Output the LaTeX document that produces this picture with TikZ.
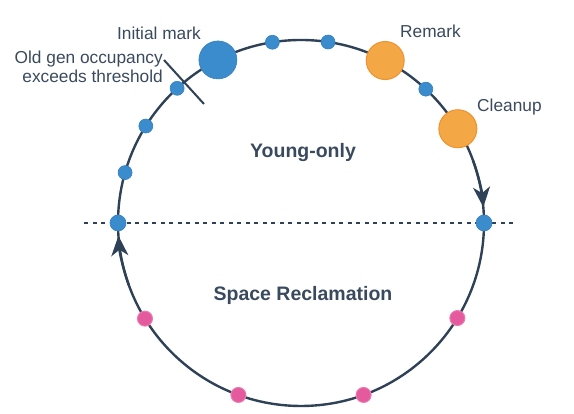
\documentclass[tikz,border=0pt]{standalone}
\usepackage{fontspec}
\setmainfont{Liberation Sans}
\usetikzlibrary{arrows.meta,calc}
\definecolor{ringc}{HTML}{2F4156}
\definecolor{txtc}{HTML}{3A4A5E}
\definecolor{blu}{HTML}{3B8CCD}
\definecolor{blud}{HTML}{3580C0}
\definecolor{orf}{HTML}{F4A745}
\definecolor{ord}{HTML}{EE9230}
\definecolor{pnk}{HTML}{E45A9C}
\definecolor{pnkd}{HTML}{EC7AB0}
\tikzset{
  ring/.style={draw=ringc,line width=2.4pt},
  sdot/.style={circle,fill=blu,draw=blud,line width=0.6pt,minimum size=14pt,inner sep=0pt},
  edot/.style={circle,fill=blu,draw=blud,line width=0.6pt,minimum size=16pt,inner sep=0pt},
  bdot/.style={circle,fill=blu,draw=blud,line width=0.6pt,minimum size=38pt,inner sep=0pt},
  odot/.style={circle,fill=orf,draw=ord,line width=1pt,minimum size=38pt,inner sep=0pt},
  pdot/.style={circle,fill=pnk,draw=pnkd,line width=1pt,minimum size=15pt,inner sep=0pt},
  lbl/.style={text=txtc,font=\fontsize{17.3}{19}\selectfont,inner sep=0pt},
  ttl/.style={text=txtc,font=\bfseries\fontsize{19.5}{22}\selectfont,inner sep=0pt},
  arr/.style={draw=ringc,line width=2.4pt,-{Stealth[length=20pt,width=17pt,inset=6pt]}}
}
\begin{document}
\begin{tikzpicture}[x=1pt,y=1pt]
\useasboundingbox (0,0) rectangle (574,414);
\coordinate (c) at (301,191);
\def\R{183}
% dashed divider
\coordinate (dl) at (84,191);
\coordinate (dr) at (517,191);
\draw[ringc,line width=1.3pt,dash pattern=on 4pt off 4.5pt] (dl) -- (dr);
% ring
\draw[ring] (c) circle[radius=\R];
% arrows along the ring
\draw[arr] ([shift={(20:\R)}]c) arc[start angle=20,end angle=5,radius=\R];
\draw[arr] ([shift={(200:\R)}]c) arc[start angle=200,end angle=184,radius=\R];
% threshold tick
\coordinate (t1) at (164,354);
\coordinate (t2) at (204,310);
\draw[ringc,line width=2pt] (t1) -- (t2);
% dots
\node[edot] (left) at ($(c)+(180:\R)$) {};
\node[edot] (right) at ($(c)+(0:\R)$) {};
\node[sdot] (l1) at ($(c)+(164:\R)$) {};
\node[sdot] (l2) at ($(c)+(148:\R)$) {};
\node[sdot] (l3) at ($(c)+(132.6:\R)$) {};
\node[bdot] (im) at ($(c)+(117:\R)$) {};
\node[sdot] (t4) at ($(c)+(99:\R)$) {};
\node[sdot] (t5) at ($(c)+(81.5:\R)$) {};
\node[odot] (rm) at ($(c)+(62.6:\R)$) {};
\node[sdot] (t6) at ($(c)+(47:\R)$) {};
\node[odot] (cu) at ($(c)+(31:\R)$) {};
\node[pdot] (p1) at ($(c)+(211.5:\R)$) {};
\node[pdot] (p2) at ($(c)+(250:\R)$) {};
\node[pdot] (p3) at ($(c)+(290:\R)$) {};
\node[pdot] (p4) at ($(c)+(328.7:\R)$) {};
% labels
\node[lbl,anchor=east] (lim) at (201,381) {Initial mark};
\node[lbl,anchor=east,align=right] (lold) at (163,347.5) {Old gen occupancy\\exceeds threshold};
\node[lbl,anchor=west] (lrm) at (400,383) {Remark};
\node[lbl,anchor=west] (lcu) at (477,307) {Cleanup};
\node[ttl] (yo) at (303,261) {Young-only};
\node[ttl] (sr) at (303,119) {Space Reclamation};
\end{tikzpicture}
\end{document}
